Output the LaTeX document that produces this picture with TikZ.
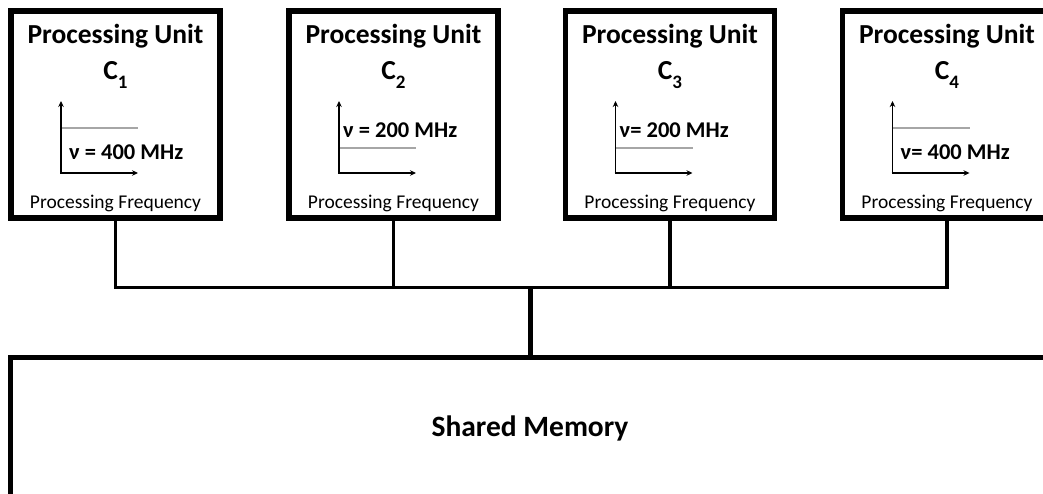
\documentclass[tikz,border=0pt]{standalone}
\usepackage{fontspec}
\setmainfont{Carlito}
\usetikzlibrary{arrows.meta}
\definecolor{axisgrey}{HTML}{A6A6A6}
\tikzset{
  unitbox/.style={draw=black, line width=5.5pt},
  title/.style={font=\fontsize{27.5}{27.5}\selectfont\bfseries, anchor=base, inner sep=0pt},
  freqlabel/.style={font=\fontsize{22.5}{22.5}\selectfont\bfseries, anchor=base west, inner sep=0pt},
  caption/.style={font=\fontsize{19.5}{19.5}\selectfont, anchor=base, inner sep=0pt},
  axis/.style={line width=1.8pt, -{Stealth[length=6pt,width=5.5pt]}},
  level/.style={draw=axisgrey, line width=1.8pt},
  wire/.style={line width=3.5pt},
}
\newcommand{\unitname}[1]{C\raisebox{-0.3em}{\fontsize{19}{19}\selectfont #1}}
\begin{document}
\begin{tikzpicture}[x=1pt, y=-1pt]
\useasboundingbox (0,0) rectangle (1043,494);
\clip (0,0) rectangle (1043,494);

% processing units: name, left edge, subscript, level y, label baseline, label offset, label
\foreach \n/\L/\s/\ly/\ty/\tx/\lab in {
  u1/11/1/128/160/58/{ν = 400 MHz},
  u2/289/2/148/138/54/{ν = 200 MHz},
  u3/565.5/3/148/138/54/{ν= 200 MHz},
  u4/842.5/4/128/160/58/{ν= 400 MHz}} {
  \draw[unitbox] (\L,11) rectangle (\L+209,218);
  \coordinate (\n-top) at (\L+104.5,11);
  \coordinate (\n-bot) at (\L+104.5,218);
  \node[title] (\n-title) at (\L+104.5,44) {Processing Unit};
  \node[title] (\n-name) at (\L+104.5,80) {\unitname{\s}};
  \coordinate (\n-o) at (\L+50,173);
  \coordinate (\n-y) at (\L+50,101);
  \coordinate (\n-x) at (\L+127,173);
  \coordinate (\n-l0) at (\L+50,\ly);
  \coordinate (\n-l1) at (\L+127,\ly);
  \draw[level] (\n-l0) -- (\n-l1);
  \draw[axis] (\n-o) -- (\n-y);
  \draw[axis] ([xshift=-0.9pt]\n-o) -- (\n-x);
  \node[freqlabel] (\n-freq) at (\L+\tx,\ty) {\lab};
  \node[caption] (\n-cap) at (\L+104.5,209) {Processing Frequency};
}

% shared bus
\coordinate (bus1) at (115.5,287.5);
\coordinate (bus2) at (393.5,287.5);
\coordinate (bus3) at (670,287.5);
\coordinate (bus4) at (947,287.5);
\coordinate (busmid) at (530.5,287.5);
\draw[wire] (u1-bot) -- (bus1) -- (bus4) -- (u4-bot);
\draw[wire] (u2-bot) -- (bus2);
\draw[wire] (u3-bot) -- (bus3);

% shared memory
\draw[unitbox] (10.5,357.5) rectangle (1070,497);
\coordinate (mem-top) at (530.5,357.5);
\draw[line width=4.5pt] (busmid) -- (mem-top);
\node[font=\fontsize{29.5}{29.5}\selectfont\bfseries, anchor=base, inner sep=0pt] (mem) at (530,436) {Shared Memory};
\end{tikzpicture}
\end{document}
